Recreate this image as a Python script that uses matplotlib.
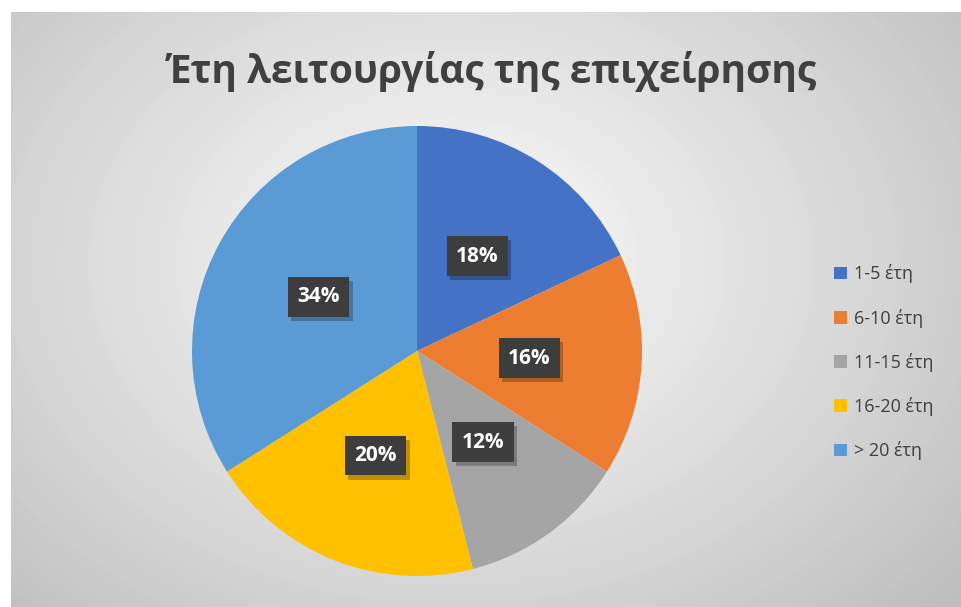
import matplotlib.pyplot as plt
import matplotlib.patheffects as pe
import numpy as np
from matplotlib.patches import Patch

plt.rcParams["font.family"] = ["Open Sans", "DejaVu Sans"]

labels = ["1-5 έτη", "6-10 έτη", "11-15 έτη", "16-20 έτη", "> 20 έτη"]
shares = [18, 16, 12, 20, 34]
colors = ["#4472C4", "#ED7D31", "#A5A5A5", "#FFC000", "#5B9BD5"]
title = "Έτη λειτουργίας της επιχείρησης"

W, H = 962, 607
fig = plt.figure(figsize=(W / 100, H / 100), dpi=100)

# radial grey gradient background of the chart area
bg = fig.add_axes([11 / W, 0, 1 - 11 / W, 1 - 12 / H])
yy, xx = np.mgrid[0:595, 0:951]
cx, cy = 440, 250
r = np.hypot((xx - cx) / 600, (yy - cy) / 460)
shade = 0.98 - 0.21 * np.clip(r, 0, 1.2) ** 1.1
bg.imshow(shade, cmap="gray", vmin=0, vmax=1, aspect="auto", interpolation="bilinear")
bg.axis("off")

ax = fig.add_axes([(417 - 225) / W, (H - 351 - 225) / H, 450 / W, 450 / H])
wedges, texts, autotexts = ax.pie(
    shares,
    colors=colors,
    startangle=90,
    counterclock=False,
    autopct="%1.0f%%",
    pctdistance=0.5,
    wedgeprops=dict(linewidth=0),
    textprops=dict(color="white", fontsize=15, fontweight="bold"),
)
for t in autotexts:
    t.set_bbox(dict(boxstyle="square,pad=0.45", facecolor="#3d3d3d", edgecolor="none"))
    t.get_bbox_patch().set_path_effects([
        pe.SimplePatchShadow(offset=(2.5, -3), shadow_rgbFace="black", alpha=0.25),
        pe.Normal(),
    ])
ax.set_xlim(-1, 1)
ax.set_ylim(-1, 1)
ax.set_aspect("equal")

fig.text(492 / W, 1 - 72 / H, title, ha="center", va="center",
         fontsize=28, fontweight="bold", color="#404040")

handles = [Patch(facecolor=c, edgecolor="none") for c in colors]
fig.legend(handles, labels, loc="upper left", bbox_to_anchor=(818 / W, 1 - 248 / H),
           frameon=False, fontsize=13, labelcolor="#404040",
           handlelength=0.7, handleheight=0.7, handletextpad=0.4, labelspacing=1.4)

fig.savefig("out.png", dpi=100)
